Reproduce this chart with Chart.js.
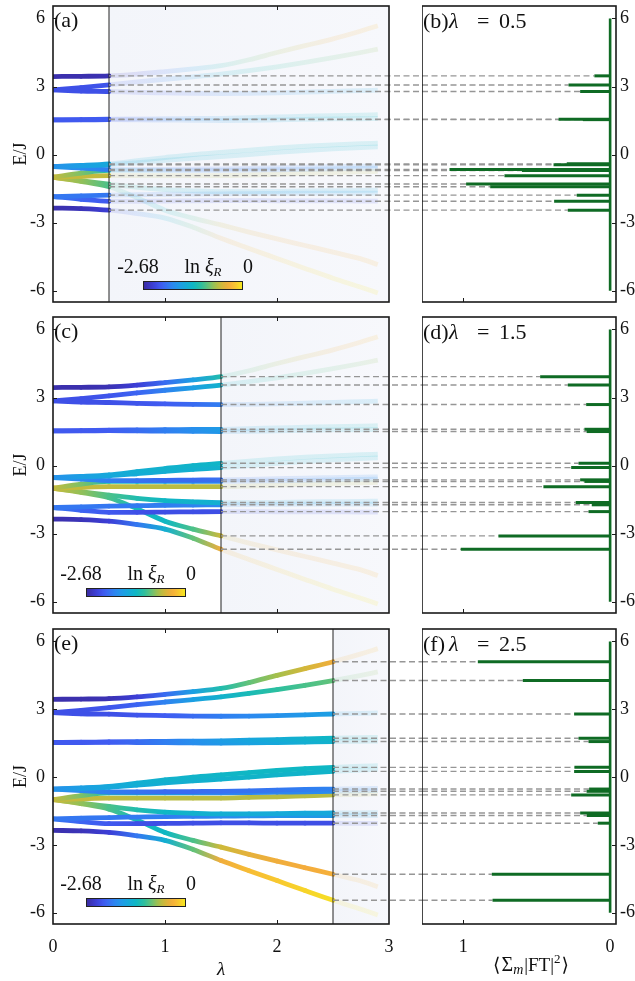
<!DOCTYPE html>
<html><head><meta charset="utf-8">
<script src="https://cdn.jsdelivr.net/npm/chart.js@4.4.1/dist/chart.umd.min.js"></script>
<style>
html,body{margin:0;padding:0;background:#fff;}
#wrap{position:relative;width:635px;height:981px;overflow:hidden;background:#fff;}
#wrap canvas{position:absolute;top:0;}
</style></head>
<body><div id="wrap"></div>
<script>
// ---------------- DATA ----------------
const lambdaGrid = [0, 0.25, 0.5, 0.75, 1, 1.25, 1.5, 1.75, 2, 2.25, 2.5, 2.75, 2.9];

// energy levels E/J along lambda
const E01 = [3.44, 3.45, 3.47, 3.55, 3.66, 3.78, 3.92, 4.18, 4.50, 4.80, 5.10, 5.45, 5.68];
const E02 = [2.85, 2.95, 3.07, 3.20, 3.32, 3.43, 3.55, 3.70, 3.87, 4.06, 4.27, 4.50, 4.65];
const E03 = [2.85, 2.80, 2.78, 2.74, 2.72, 2.70, 2.69, 2.70, 2.72, 2.75, 2.79, 2.82, 2.84];
const E04 = [1.53, 1.54, 1.56, 1.57, 1.58, 1.59, 1.60, 1.63, 1.66, 1.69, 1.72, 1.74, 1.76];
const E05 = [1.53, 1.53, 1.54, 1.53, 1.52, 1.51, 1.50, 1.51, 1.53, 1.55, 1.57, 1.58, 1.59];
const E06 = [-0.53, -0.48, -0.41, -0.27, -0.13, 0.00, 0.10, 0.20, 0.29, 0.37, 0.43, 0.48, 0.50];
const E07 = [-0.53, -0.50, -0.45, -0.36, -0.26, -0.17, -0.09, 0.00, 0.10, 0.18, 0.25, 0.31, 0.34];
const E08 = [-0.53, -0.60, -0.66, -0.66, -0.65, -0.64, -0.63, -0.61, -0.58, -0.55, -0.53, -0.51, -0.50];
const E09 = [-1.00, -0.82, -0.70, -0.70, -0.70, -0.70, -0.70, -0.69, -0.67, -0.65, -0.63, -0.61, -0.60];
const E10 = [-1.00, -0.96, -0.93, -0.93, -0.93, -0.93, -0.93, -0.90, -0.87, -0.83, -0.79, -0.76, -0.74];
const E11 = [-1.00, -1.15, -1.30, -1.45, -1.55, -1.60, -1.63, -1.63, -1.62, -1.60, -1.59, -1.58, -1.57];
const E12 = [-1.85, -1.82, -1.79, -1.77, -1.75, -1.74, -1.73, -1.72, -1.71, -1.70, -1.70, -1.70, -1.70];
const E13 = [-1.85, -1.97, -2.06, -2.06, -2.05, -2.04, -2.03, -2.03, -2.04, -2.04, -2.04, -2.05, -2.05];
const E14 = [-1.00, -1.18, -1.42, -1.90, -2.45, -2.80, -3.10, -3.42, -3.72, -4.01, -4.30, -4.60, -4.85];
const E15 = [-2.36, -2.38, -2.45, -2.60, -2.80, -3.20, -3.69, -4.14, -4.58, -5.02, -5.45, -5.85, -6.10];

// ln xi_R along each level
const X01 = [-2.60, -2.60, -2.57, -2.41, -2.09, -1.66, -1.21, -0.94, -0.75, -0.56, -0.40, -0.32, -0.27];
const X02 = [-2.28, -2.28, -2.25, -2.14, -1.93, -1.66, -1.42, -1.26, -1.13, -1.02, -0.94, -0.86, -0.80];
const X03 = [-2.28, -2.28, -2.28, -2.25, -2.20, -2.09, -1.96, -1.88, -1.80, -1.72, -1.66, -1.61, -1.58];
const X04 = [-2.22, -2.22, -2.20, -2.09, -1.96, -1.82, -1.69, -1.58, -1.50, -1.42, -1.34, -1.31, -1.29];
const X05 = [-2.22, -2.22, -2.20, -2.09, -1.96, -1.85, -1.74, -1.63, -1.55, -1.47, -1.42, -1.39, -1.37];
const X06 = [-1.80, -1.66, -1.55, -1.47, -1.42, -1.39, -1.37, -1.34, -1.34, -1.34, -1.34, -1.34, -1.34];
const X07 = [-1.80, -1.69, -1.61, -1.53, -1.47, -1.45, -1.42, -1.39, -1.39, -1.39, -1.39, -1.39, -1.39];
const X08 = [-1.80, -1.88, -1.96, -2.04, -2.09, -2.09, -2.06, -2.04, -2.01, -1.96, -1.93, -1.90, -1.88];
const X09 = [-0.62, -0.86, -1.21, -1.47, -1.66, -1.80, -1.88, -1.90, -1.90, -1.88, -1.85, -1.82, -1.80];
const X10 = [-0.62, -0.62, -0.64, -0.67, -0.67, -0.67, -0.67, -0.67, -0.67, -0.67, -0.67, -0.67, -0.67];
const X11 = [-0.62, -0.80, -1.02, -1.21, -1.34, -1.42, -1.47, -1.50, -1.53, -1.55, -1.55, -1.55, -1.55];
const X12 = [-2.01, -2.01, -2.01, -1.98, -1.96, -1.93, -1.88, -1.82, -1.77, -1.74, -1.72, -1.69, -1.69];
const X13 = [-2.01, -2.14, -2.22, -2.28, -2.30, -2.30, -2.30, -2.30, -2.30, -2.30, -2.30, -2.30, -2.30];
const X14 = [-0.62, -0.80, -1.02, -1.29, -1.34, -1.02, -0.59, -0.46, -0.40, -0.38, -0.35, -0.32, -0.32];
const X15 = [-2.60, -2.55, -2.41, -2.01, -1.47, -0.94, -0.40, -0.27, -0.19, -0.13, -0.08, -0.05, -0.05];

// <sum_m |FT|^2> weight of each level at the marked lambda
const lambdaMarks = [0.5, 1.5, 2.5];
const ftLam05 = [0.107, 0.283, 0.204, 0.351, 0.186, 0.295, 0.385, 1.093, 0.60, 0.719, 0.98, 0.227, 0.381, 0.816, 0.288];
const ftLam15 = [0.476, 0.288, 0.163, 0.175, 0.160, 0.215, 0.265, 0.204, 0.175, 0.454, 0.234, 0.125, 0.147, 0.76, 1.016];
const ftLam25 = [0.90, 0.594, 0.245, 0.215, 0.147, 0.243, 0.245, 0.143, 0.160, 0.265, 0.204, 0.159, 0.084, 0.805, 0.80];

const yTicks = [-6, -3, 0, 3, 6];
const lambdaTicks = [0, 1, 2, 3];
const ftTicks = [1, 0];
const lnXiRange = [-2.68, 0];
const leftLabels = ['(a)', '(c)', '(e)'];
const rightLabels = ['(b)', '(d)', '(f)'];

// ---------------- BUILD ----------------
const energyLevels = [E01,E02,E03,E04,E05,E06,E07,E08,E09,E10,E11,E12,E13,E14,E15];
const lnXiLevels = [X01,X02,X03,X04,X05,X06,X07,X08,X09,X10,X11,X12,X13,X14,X15];
const ftLists = [ftLam05, ftLam15, ftLam25];

const FONT = "'Liberation Serif','DejaVu Serif',serif";
const W = 635, H = 981;
const rowGeom = [
  {top: 6, bottom: 302, cbdx: 90, cbdy: 21},
  {top: 317, bottom: 613, cbdx: 33, cbdy: 25},
  {top: 629, bottom: 924, cbdx: 33, cbdy: 26}
];
const LEFT_W = 422, PLOT_R = 389;
const GREEN = '#0f6b24';
const DASH = '#969696';

const cmapStops = [
  [0.00, [58, 42, 156]], [0.10, [60, 62, 214]], [0.18, [64, 92, 242]],
  [0.30, [43, 138, 240]], [0.40, [24, 164, 224]], [0.50, [15, 183, 196]],
  [0.58, [44, 191, 159]], [0.65, [98, 194, 122]], [0.72, [164, 191, 76]],
  [0.78, [205, 185, 58]], [0.86, [245, 172, 60]], [0.93, [248, 200, 48]],
  [1.00, [245, 238, 28]]
];
function cmap(t) {
  t = Math.max(0, Math.min(1, t));
  for (let i = 1; i < cmapStops.length; i++) {
    if (t <= cmapStops[i][0]) {
      const [t0, c0] = cmapStops[i-1], [t1, c1] = cmapStops[i];
      const f = (t - t0) / (t1 - t0);
      return c0.map((v, k) => v + (c1[k] - v) * f);
    }
  }
  return cmapStops[cmapStops.length-1][1];
}
const norm = v => (v - lnXiRange[0]) / (lnXiRange[1] - lnXiRange[0]);
const rgba = (c, a) => `rgba(${Math.round(c[0])},${Math.round(c[1])},${Math.round(c[2])},${a})`;

function drawRuns(ctx, runs, x, y, align) {
  let w = 0;
  runs.forEach(r => { ctx.font = r.f; r.w = ctx.measureText(r.t).width; w += r.w + (r.sp || 0); });
  let cx = align === 'center' ? x - w / 2 : x;
  ctx.textBaseline = 'middle'; ctx.textAlign = 'left'; ctx.fillStyle = '#111';
  runs.forEach(r => { ctx.font = r.f; ctx.fillText(r.t, cx, y + (r.dy || 0)); cx += r.w + (r.sp || 0); });
}

const wrap = document.getElementById('wrap');
function makeCanvas(left, width) {
  const c = document.createElement('canvas');
  c.width = width; c.height = H;
  c.style.left = left + 'px'; c.style.width = width + 'px'; c.style.height = H + 'px';
  wrap.appendChild(c);
  return c;
}
function tickFont() { return {family: FONT, size: 18}; }
function fitY(width) {
  return s => { s.width = width; s.paddingTop = 0; s.paddingBottom = 0; s.paddingLeft = 0; s.paddingRight = 0; };
}
function fitX(height) {
  return s => { s.height = height; s.paddingLeft = 0; s.paddingRight = 0; s.paddingTop = 0; s.paddingBottom = 0; };
}

for (let r = 0; r < 3; r++) {
  const g = rowGeom[r];
  const lam = lambdaMarks[r];
  const mi = lambdaGrid.indexOf(lam);
  const isLast = r === 2;
  const ft = ftLists[r];
  const xH = isLast ? H - 924 : 0;

  // ---------- left chart ----------
  const cL = makeCanvas(0, LEFT_W);
  const ctxL = cL.getContext('2d');
  const dsL = [];
  energyLevels.forEach(E => {
    dsL.push({data: [{x: lam, y: E[mi]}, {x: 3 + (LEFT_W - PLOT_R) / 112, y: E[mi]}],
      borderColor: DASH, borderWidth: 1.4, borderDash: [6, 3.5], clip: false, order: 0, pointRadius: 0});
  });
  dsL.push({data: [{x: lam, y: -6.5}, {x: lam, y: 6.55}], borderColor: '#222', borderWidth: 1, order: 1, pointRadius: 0});
  energyLevels.forEach((E, k) => {
    const L = lnXiLevels[k];
    dsL.push({
      data: lambdaGrid.map((x, i) => ({x, y: E[i]})),
      borderWidth: 4.8, pointRadius: 0, cubicInterpolationMode: 'monotone', order: 2,
      borderColor: rgba(cmap(norm(L[0])), 1),
      segment: {
        borderColor: s => {
          const i0 = s.p0DataIndex, i1 = s.p1DataIndex;
          const faded = lambdaGrid[i0] >= lam - 1e-9;
          const a = faded ? 0.13 : 1;
          const grd = ctxL.createLinearGradient(s.p0.x, 0, s.p1.x + 0.01, 0);
          grd.addColorStop(0, rgba(cmap(norm(L[i0])), a));
          grd.addColorStop(1, rgba(cmap(norm(L[i1])), a));
          return grd;
        },
        borderCapStyle: s => (lambdaGrid[s.p0DataIndex] >= lam - 1e-9 ? 'butt' : 'round')
      }
    });
  });

  const leftDecor = {
    id: 'leftDecor' + r,
    beforeDatasetsDraw(chart) {
      const {ctx, chartArea: a, scales: {x}} = chart;
      const xl = x.getPixelForValue(lam);
      const grd = ctx.createLinearGradient(xl, 0, a.right, 0);
      grd.addColorStop(0, '#f3f5fa'); grd.addColorStop(1, '#f7f8fc');
      ctx.save(); ctx.fillStyle = grd; ctx.fillRect(xl, a.top, a.right - xl, a.bottom - a.top); ctx.restore();
    },
    afterDatasetsDraw(chart) {
      const {ctx, chartArea: a, scales: {x, y}} = chart;
      ctx.save();
      ctx.strokeStyle = '#1a1a1a'; ctx.lineWidth = 1;
      ctx.beginPath();
      yTicks.forEach(v => { const py = Math.round(y.getPixelForValue(v)) + 0.5; ctx.moveTo(a.left, py); ctx.lineTo(a.left + 4, py); });
      lambdaTicks.forEach(v => {
        if (v <= 0 || v >= 3) return;
        const px = Math.round(x.getPixelForValue(v)) + 0.5;
        ctx.moveTo(px, a.bottom); ctx.lineTo(px, a.bottom - 4);
        ctx.moveTo(px, a.top); ctx.lineTo(px, a.top + 4);
      });
      ctx.stroke();
      ctx.lineWidth = 1.6; ctx.strokeStyle = '#1a1a1a';
      ctx.strokeRect(a.left, a.top, a.right - a.left, a.bottom - a.top);
      ctx.restore();
    },
    afterDraw(chart) {
      const {ctx, chartArea: a} = chart;
      ctx.save();
      const x0 = a.left + g.cbdx, w = 100, h = 9, y0 = a.bottom - g.cbdy;
      const grd = ctx.createLinearGradient(x0, 0, x0 + w, 0);
      for (let i = 0; i <= 24; i++) grd.addColorStop(i / 24, rgba(cmap(i / 24), 1));
      ctx.fillStyle = grd; ctx.fillRect(x0, y0, w, h);
      ctx.strokeStyle = '#222'; ctx.lineWidth = 1; ctx.strokeRect(x0 + 0.5, y0 + 0.5, w - 1, h - 1);
      const ly = y0 - 13.5;
      drawRuns(ctx, [{t: lnXiRange[0].toFixed(2), f: `20px ${FONT}`}], x0 - 5, ly, 'center');
      drawRuns(ctx, [{t: 'ln ', f: `20px ${FONT}`}, {t: 'ξ', f: `italic 20px ${FONT}`},
                     {t: 'R', f: `italic 13px ${FONT}`, dy: 5}], x0 + w / 2 + 10, ly, 'center');
      drawRuns(ctx, [{t: String(lnXiRange[1]), f: `20px ${FONT}`}], x0 + w + 5, ly, 'center');
      drawRuns(ctx, [{t: leftLabels[r], f: `22px ${FONT}`}], a.left + 1, a.top + 15, 'left');
      ctx.restore();
    }
  };

  new Chart(cL, {
    type: 'line',
    data: {datasets: dsL},
    options: {
      responsive: false, animation: false, events: [],
      layout: {padding: {left: 0, right: LEFT_W - PLOT_R, top: g.top, bottom: H - g.bottom - xH}},
      plugins: {legend: {display: false}, tooltip: {enabled: false}, title: {display: false}},
      elements: {point: {radius: 0}},
      scales: {
        x: {type: 'linear', min: 0, max: 3, display: isLast,
          afterBuildTicks: s => { s.ticks = lambdaTicks.map(v => ({value: v})); },
          afterFit: fitX(xH),
          grid: {display: false, drawTicks: false}, border: {display: false},
          ticks: {padding: 12, font: tickFont(), color: '#111', maxRotation: 0, autoSkip: false, callback: v => String(v)},
          title: {display: true, text: 'λ', font: {family: FONT, size: 19, style: 'italic'}, color: '#111', padding: {top: 0, bottom: 0}}},
        y: {type: 'linear', min: -6.5, max: 6.55, position: 'left',
          afterBuildTicks: s => { s.ticks = yTicks.map(v => ({value: v})); },
          afterFit: fitY(53),
          grid: {display: false, drawTicks: false}, border: {display: false},
          ticks: {padding: 8, font: tickFont(), color: '#111', autoSkip: false, callback: v => String(v)},
          title: {display: true, text: 'E/J', font: {family: FONT, size: 18}, color: '#111', padding: {top: 10, bottom: 0}}}
      }
    },
    plugins: [leftDecor]
  });

  // ---------- right chart ----------
  const RL = 422;
  const cR = makeCanvas(RL, W - RL);
  const dsR = [];
  energyLevels.forEach((E, k) => {
    dsR.push({data: [{x: 1.28, y: E[mi]}, {x: ft[k], y: E[mi]}], borderColor: DASH, borderWidth: 1.4,
      borderDash: [6, 3.5], order: 2, pointRadius: 0});
  });
  energyLevels.forEach((E, k) => {
    dsR.push({data: [{x: 0, y: E[mi]}, {x: ft[k], y: E[mi]}], borderColor: GREEN, borderWidth: 3,
      order: 1, pointRadius: 0, borderCapStyle: 'butt'});
  });
  dsR.push({data: [{x: 0, y: yTicks[0]}, {x: 0, y: yTicks[yTicks.length - 1]}], borderColor: GREEN, borderWidth: 2.6, order: 0, pointRadius: 0});

  const rightDecor = {
    id: 'rightDecor' + r,
    afterDatasetsDraw(chart) {
      const {ctx, chartArea: a, scales: {x, y}} = chart;
      ctx.save();
      ctx.strokeStyle = '#1a1a1a'; ctx.lineWidth = 1;
      ctx.beginPath();
      yTicks.forEach(v => { const py = Math.round(y.getPixelForValue(v)) + 0.5; ctx.moveTo(a.right, py); ctx.lineTo(a.right - 4, py); });
      const px = Math.round(x.getPixelForValue(ftTicks[0])) + 0.5;
      ctx.moveTo(px, a.bottom); ctx.lineTo(px, a.bottom - 4);
      ctx.stroke();
      ctx.lineWidth = 1.6;
      ctx.strokeRect(a.left, a.top, a.right - a.left, a.bottom - a.top);
      ctx.restore();
    },
    afterDraw(chart) {
      const {ctx, chartArea: a} = chart;
      ctx.save();
      const f = `22px ${FONT}`;
      const ty = a.top + 16;
      drawRuns(ctx, [{t: rightLabels[r], f}], a.left + 1, ty, 'left');
      drawRuns(ctx, [{t: 'λ', f: `italic 22px ${FONT}`}], a.left + 27, ty, 'left');
      drawRuns(ctx, [{t: '=', f}], a.left + 55, ty, 'left');
      drawRuns(ctx, [{t: lam.toFixed(1), f}], a.left + 77, ty, 'left');
      if (isLast) {
        drawRuns(ctx, [
          {t: '⟨', f: `19px ${FONT}`, sp: 1},
          {t: 'Σ', f: `20px ${FONT}`},
          {t: 'm', f: `italic 14px ${FONT}`, dy: 4, sp: 1},
          {t: '|FT|', f: `19px ${FONT}`},
          {t: '2', f: `13px ${FONT}`, dy: -6, sp: 1},
          {t: '⟩', f: `19px ${FONT}`}
        ], 531 - RL, 966, 'center');
      }
      ctx.restore();
    }
  };

  new Chart(cR, {
    type: 'line',
    data: {datasets: dsR},
    options: {
      responsive: false, animation: false, events: [],
      layout: {padding: {left: 0, right: 0, top: g.top, bottom: H - g.bottom - xH}},
      plugins: {legend: {display: false}, tooltip: {enabled: false}, title: {display: false}},
      elements: {point: {radius: 0}},
      scales: {
        x: {type: 'linear', min: -0.04, max: 1.28, reverse: true, display: isLast,
          afterBuildTicks: s => { s.ticks = ftTicks.map(v => ({value: v})); },
          afterFit: fitX(xH),
          grid: {display: false, drawTicks: false}, border: {display: false},
          ticks: {padding: 12, font: tickFont(), color: '#111', maxRotation: 0, autoSkip: false, callback: v => String(v)},
          title: {display: false}},
        y: {type: 'linear', min: -6.5, max: 6.55, position: 'right',
          afterBuildTicks: s => { s.ticks = yTicks.map(v => ({value: v})); },
          afterFit: fitY(W - 616),
          grid: {display: false, drawTicks: false}, border: {display: false},
          ticks: {padding: 4, font: tickFont(), color: '#111', autoSkip: false, callback: v => String(v)},
          title: {display: false}}
      }
    },
    plugins: [rightDecor]
  });
}
</script>
</body></html>
